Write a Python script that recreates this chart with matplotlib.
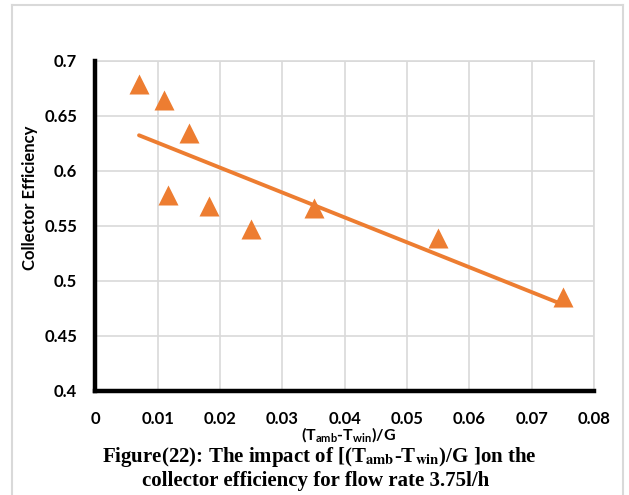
import numpy as np
import matplotlib
matplotlib.use("Agg")
import matplotlib.pyplot as plt
from matplotlib.lines import Line2D

plt.rcParams['font.family'] = ['Lato', 'DejaVu Sans']
plt.rcParams['mathtext.fontset'] = 'custom'
plt.rcParams['mathtext.rm'] = 'Lato'
plt.rcParams['mathtext.bf'] = 'Lato:bold'
plt.rcParams['mathtext.it'] = 'Lato:italic'

# data
x_vals = [0.007, 0.011, 0.015, 0.0117, 0.0182, 0.025, 0.035, 0.055, 0.075]
y_vals = [0.679, 0.664, 0.634, 0.578, 0.568, 0.547, 0.566, 0.539, 0.485]
x_ticks = [0, 0.01, 0.02, 0.03, 0.04, 0.05, 0.06, 0.07, 0.08]
x_tick_labels = ['0', '0.01', '0.02', '0.03', '0.04', '0.05', '0.06', '0.07', '0.08']
y_ticks = [0.4, 0.45, 0.5, 0.55, 0.6, 0.65, 0.7]
y_tick_labels = ['0.4', '0.45', '0.5', '0.55', '0.6', '0.65', '0.7']

orange = '#ED7D31'
grid_c = '#D9D9D9'

fig = plt.figure(figsize=(6.29, 4.95), dpi=100)
fig.patch.set_facecolor('white')

# outer frame (chart area border)
W, H = 629, 495
for xs, ys in [([12/W, 12/W], [0, 1 - 5/H]),
               ([623/W, 623/W], [0, 1 - 5/H]),
               ([12/W, 623/W], [1 - 5/H, 1 - 5/H])]:
    fig.add_artist(Line2D(xs, ys, transform=fig.transFigure, color='#D9D9D9', lw=1.5))

ax = fig.add_axes([95.4/W, 1 - 390.7/H, (594 - 95.4)/W, (390.7 - 60.7)/H])
ax.set_xlim(0, 0.08)
ax.set_ylim(0.4, 0.7)
ax.set_xticks(x_ticks)
ax.set_xticklabels(x_tick_labels)
ax.set_yticks(y_ticks)
ax.set_yticklabels(y_tick_labels)
ax.grid(True, color=grid_c, lw=1.2, zorder=0)
ax.set_axisbelow(True)
for s in ['top', 'right']:
    ax.spines[s].set_color(grid_c)
    ax.spines[s].set_linewidth(1.2)
for s in ['left', 'bottom']:
    ax.spines[s].set_color('black')
    ax.spines[s].set_linewidth(3.2)
    ax.spines[s].set_zorder(5)
ax.tick_params(length=0, labelsize=12)
ax.tick_params(axis='x', pad=14.5)
ax.tick_params(axis='y', pad=13)
for lab in ax.get_xticklabels() + ax.get_yticklabels():
    lab.set_fontweight('bold')

ax.plot(x_vals, y_vals, linestyle='none', marker='^', ms=14.5,
        color=orange, mec='none', zorder=3)

# linear trendline
coef = np.polyfit(x_vals, y_vals, 1)
xt = np.array([min(x_vals), max(x_vals)])
ax.plot(xt, np.polyval(coef, xt), color=orange, lw=2.8, solid_capstyle='round', zorder=4)

fig.text(30/W, 1 - 198/H, 'Collector Efficiency', rotation=90, ha='center', va='center',
         fontsize=12, fontweight='bold')
fig.text(348/W, 1 - 440/H, r'(T$_\mathbf{amb}$-T$_\mathbf{win}$)/G', ha='center', va='baseline',
         fontsize=11.5, fontweight='bold')

cap_kw = dict(ha='center', va='baseline', fontsize=15, fontweight='bold',
              family=['Liberation Serif', 'DejaVu Serif'], math_fontfamily='stix')
fig.text(319/W, 1 - 462/H, r'Figure(22): The impact of [(T$_\mathbf{amb}$-T$_\mathbf{win}$)/G ]on the', **cap_kw)
fig.text(316/W, 1 - 486/H, 'collector efficiency for flow rate 3.75l/h', **cap_kw)

fig.savefig('out.png', dpi=100, facecolor='white')
